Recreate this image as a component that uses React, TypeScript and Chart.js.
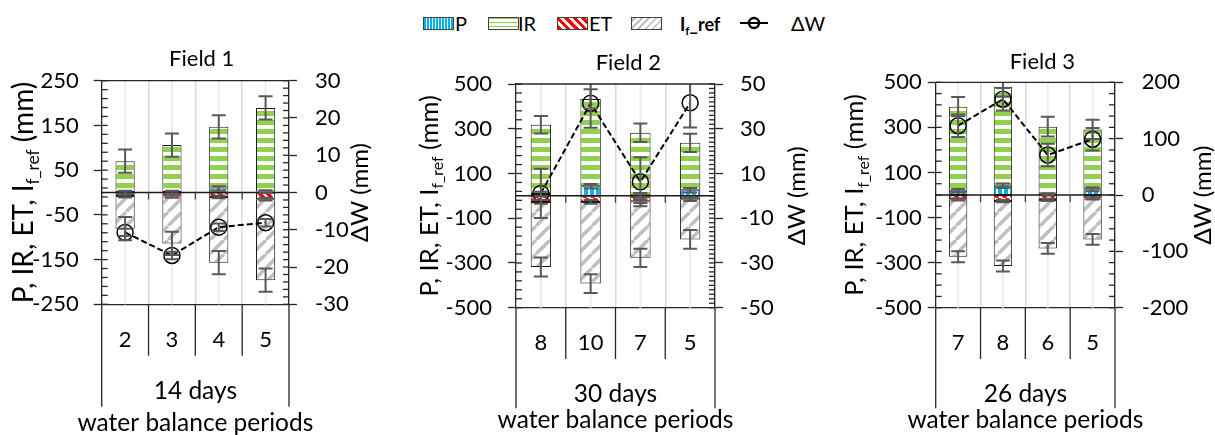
import React, { useEffect, useRef } from "react";
import { Chart, registerables } from "chart.js";

Chart.register(...registerables);

const FONT = 'Lato, "Open Sans", "DejaVu Sans", sans-serif';
Chart.defaults.font.family = FONT;

// ---------------- data ----------------
const FIELD_TITLES = ["Field 1", "Field 2", "Field 3"];
const GROUP_LABELS = ["14 days", "30 days", "26 days"];
const X_TITLE = "water balance periods";
const LEFT_TITLE_MAIN = "P, IR, ET, I";
const LEFT_TITLE_SUB = "f_ref";
const LEFT_TITLE_UNIT = " (mm)";
const RIGHT_TITLE = "ΔW (mm)";
const SERIES_NAMES = ["P", "IR", "ET", "If_ref", "ΔW"];

const F1_PERIODS = ["2", "3", "4", "5"];
const F1_P = [1, 1, 9, 2];
const F1_IR = [69, 105, 138, 187];
const F1_ET = [-8, -9, -10, -15];
const F1_IF = [-73, -105, -147, -181];
const F1_DW = [-10.7, -16.9, -9.3, -8.1];
const F1_P_ERR = [3, 3, 5, 3];
const F1_IR_ERR = [26, 26, 26, 26];
const F1_ET_ERR = [3, 3, 3, 3];
const F1_IF_ERR = [26, 26, 26, 26];
const F1_DW_ERR = [1, 1, 1, 1];
const F1_LEFT_TICKS = [-250, -150, -50, 50, 150, 250];
const F1_RIGHT_TICKS = [-30, -20, -10, 0, 10, 20, 30];
const F1_LEFT_MINOR = 20;
const F1_RIGHT_MINOR = 2;

const F2_PERIODS = ["8", "10", "7", "5"];
const F2_P = [8, 43, 3, 25];
const F2_IR = [310, 390, 279, 212];
const F2_ET = [-27, -27, -24, -15];
const F2_IF = [-291, -365, -253, -180];
const F2_DW = [1.1, 41.4, 6.3, 41.6];
const F2_P_ERR = [10, 10, 10, 10];
const F2_IR_ERR = [39, 43, 41, 41];
const F2_ET_ERR = [8, 8, 8, 8];
const F2_IF_ERR = [42, 42, 41, 42];
const F2_DW_ERR = [11, 11, 11, 11];
const F2_LEFT_TICKS = [-500, -300, -100, 100, 300, 500];
const F2_RIGHT_TICKS = [-50, -40, -30, -20, -10, 0, 10, 20, 30, 40, 50];
const F2_LEFT_MINOR = 40;
const F2_RIGHT_MINOR = 2;

const F3_PERIODS = ["7", "8", "6", "5"];
const F3_P = [19, 41, 3, 25];
const F3_IR = [373, 439, 300, 266];
const F3_ET = [-19, -27, -22, -15];
const F3_IF = [-255, -288, -215, -182];
const F3_DW = [123, 170, 71, 99];
const F3_P_ERR = [8, 10, 5, 8];
const F3_IR_ERR = [43, 43, 44, 43];
const F3_ET_ERR = [5, 5, 5, 5];
const F3_IF_ERR = [24, 24, 24, 24];
const F3_DW_ERR = [20, 20, 20, 20];
const F3_LEFT_TICKS = [-500, -300, -100, 100, 300, 500];
const F3_RIGHT_TICKS = [-200, -100, 0, 100, 200];
const F3_LEFT_MINOR = 50;
const F3_RIGHT_MINOR = 20;

// ---------------- types ----------------
type PanelData = {
  title: string;
  group: string;
  periods: string[];
  series: number[][]; // P, IR, ET, IF, DW
  errors: number[][]; // same order
  leftTicks: number[];
  rightTicks: number[];
  leftMinor: number;
  rightMinor: number;
};

type PanelLayout = {
  x: number;
  w: number;
  padL: number;
  padR: number;
  wLeft: number;
  wRight: number;
  titleTop: number;
  titleBottom: number;
  xHeight: number;
  groupY: number;
  xTitleY: number;
  leftTitleX: number;
  leftTitleSize: number;
  rightTitleX: number;
  yTickPadL: number;
  yTickPadR: number;
  dividerLen: number;
  edgeLen: number;
};

const PANELS: PanelData[] = [
  {
    title: FIELD_TITLES[0],
    group: GROUP_LABELS[0],
    periods: F1_PERIODS,
    series: [F1_P, F1_IR, F1_ET, F1_IF, F1_DW],
    errors: [F1_P_ERR, F1_IR_ERR, F1_ET_ERR, F1_IF_ERR, F1_DW_ERR],
    leftTicks: F1_LEFT_TICKS,
    rightTicks: F1_RIGHT_TICKS,
    leftMinor: F1_LEFT_MINOR,
    rightMinor: F1_RIGHT_MINOR,
  },
  {
    title: FIELD_TITLES[1],
    group: GROUP_LABELS[1],
    periods: F2_PERIODS,
    series: [F2_P, F2_IR, F2_ET, F2_IF, F2_DW],
    errors: [F2_P_ERR, F2_IR_ERR, F2_ET_ERR, F2_IF_ERR, F2_DW_ERR],
    leftTicks: F2_LEFT_TICKS,
    rightTicks: F2_RIGHT_TICKS,
    leftMinor: F2_LEFT_MINOR,
    rightMinor: F2_RIGHT_MINOR,
  },
  {
    title: FIELD_TITLES[2],
    group: GROUP_LABELS[2],
    periods: F3_PERIODS,
    series: [F3_P, F3_IR, F3_ET, F3_IF, F3_DW],
    errors: [F3_P_ERR, F3_IR_ERR, F3_ET_ERR, F3_IF_ERR, F3_DW_ERR],
    leftTicks: F3_LEFT_TICKS,
    rightTicks: F3_RIGHT_TICKS,
    leftMinor: F3_LEFT_MINOR,
    rightMinor: F3_RIGHT_MINOR,
  },
];

// ---------------- layout (styles) ----------------
const TOP = 30;
const H = 405;
const TICK_SIZE = 22;
const XTITLE_SIZE = 24.5;
const LAYOUTS: PanelLayout[] = [
  {
    x: 0, w: 410, padL: 0, padR: 6.6, wLeft: 101.7, wRight: 114.4,
    titleTop: 16.1, titleBottom: 8.2, xHeight: 130.7, groupY: 391.5, xTitleY: 423,
    leftTitleX: 22.5, leftTitleSize: 28, rightTitleX: 360,
    yTickPadL: 15, yTickPadR: 18, dividerLen: 51.4, edgeLen: 102.4,
  },
  {
    x: 410, w: 420, padL: 16.6, padR: 0, wLeft: 89.4, wRight: 115,
    titleTop: 20.1, titleBottom: 7.5, xHeight: 127.3, groupY: 394.3, xTitleY: 420.3,
    leftTitleX: 428.5, leftTitleSize: 25.5, rightTitleX: 797,
    yTickPadL: 16, yTickPadR: 17, dividerLen: 51.3, edgeLen: 100.6,
  },
  {
    x: 830, w: 385, padL: 39.6, padR: 0, wLeft: 66.1, wRight: 100,
    titleTop: 19.1, titleBottom: 6.8, xHeight: 127.3, groupY: 394.3, xTitleY: 420.3,
    leftTitleX: 854, leftTitleSize: 25.5, rightTitleX: 1203,
    yTickPadL: 6, yTickPadR: 18.7, dividerLen: 51.3, edgeLen: 100.6,
  },
];

const AXIS_COLOR = "#262626";
const ERR_COLOR = "#595959";

// ---------------- patterns ----------------
function tile(w: number, h: number, draw: (g: CanvasRenderingContext2D) => void) {
  const c = document.createElement("canvas");
  c.width = w;
  c.height = h;
  const g = c.getContext("2d")!;
  g.fillStyle = "#ffffff";
  g.fillRect(0, 0, w, h);
  draw(g);
  return c;
}

function makePatterns(ctx: CanvasRenderingContext2D) {
  const p = tile(6, 6, (g) => {
    g.fillStyle = "#00b0f0";
    g.fillRect(0, 0, 4, 6);
  });
  const ir = tile(9, 9, (g) => {
    g.fillStyle = "#92d050";
    g.fillRect(0, 0, 9, 5);
  });
  const et = tile(8, 8, (g) => {
    g.strokeStyle = "#ff0000";
    g.lineWidth = 3.5;
    g.beginPath();
    for (let k = -1; k <= 1; k++) {
      g.moveTo(k * 8, 0);
      g.lineTo(k * 8 + 8, 8);
    }
    g.stroke();
  });
  const inf = tile(14, 14, (g) => {
    g.strokeStyle = "#bfbfbf";
    g.lineWidth = 3.5;
    g.beginPath();
    for (let k = -1; k <= 1; k++) {
      g.moveTo(k * 14, 14);
      g.lineTo(k * 14 + 14, 0);
    }
    g.stroke();
  });
  return [p, ir, et, inf].map((t) => ctx.createPattern(t, "repeat")!);
}

// ---------------- decoration plugin ----------------
function line(ctx: CanvasRenderingContext2D, x1: number, y1: number, x2: number, y2: number) {
  ctx.beginPath();
  ctx.moveTo(x1, y1);
  ctx.lineTo(x2, y2);
  ctx.stroke();
}

function makeDecor(d: PanelData, L: PanelLayout) {
  const n = d.periods.length;
  return {
    id: "decor",
    beforeDatasetsDraw(chart: any) {
      const { ctx, chartArea: a } = chart;
      const x = chart.scales.x;
      ctx.save();
      ctx.strokeStyle = "#ececec";
      ctx.lineWidth = 2;
      for (let i = 0; i < n; i++) {
        const px = x.getPixelForValue(i);
        line(ctx, px, a.top, px, a.bottom);
      }
      ctx.restore();
    },
    afterDatasetsDraw(chart: any) {
      const { ctx, chartArea: a } = chart;
      const x = chart.scales.x;
      const y = chart.scales.y;
      const y0 = y.getPixelForValue(0);
      ctx.save();
      ctx.strokeStyle = "#1a1a1a";
      ctx.lineWidth = 1.5;
      line(ctx, a.left, y0, a.right, y0);
      ctx.lineWidth = 1.3;
      ctx.strokeStyle = "#404040";
      for (let i = 1; i < n; i++) {
        const bx = (x.getPixelForValue(i - 1) + x.getPixelForValue(i)) / 2;
        line(ctx, bx, y0, bx, y0 + 7);
      }
      // error bars
      ctx.beginPath();
      ctx.rect(a.left, a.top, a.right - a.left, a.bottom - a.top);
      ctx.clip();
      ctx.strokeStyle = ERR_COLOR;
      ctx.lineWidth = 2;
      chart.data.datasets.forEach((_ds: any, di: number) => {
        const e = d.errors[di];
        if (!e) return;
        const meta = chart.getDatasetMeta(di);
        const sc = chart.scales[meta.yAxisID];
        meta.data.forEach((el: any, j: number) => {
          const ep = Math.abs(sc.getPixelForValue(e[j]) - sc.getPixelForValue(0));
          const cx = el.x;
          const cy = el.y;
          const cap = 7;
          ctx.beginPath();
          ctx.moveTo(cx, cy - ep);
          ctx.lineTo(cx, cy + ep);
          ctx.moveTo(cx - cap, cy - ep);
          ctx.lineTo(cx + cap, cy - ep);
          ctx.moveTo(cx - cap, cy + ep);
          ctx.lineTo(cx + cap, cy + ep);
          ctx.stroke();
        });
      });
      ctx.restore();
    },
    afterDraw(chart: any) {
      const { ctx, chartArea: a } = chart;
      const x = chart.scales.x;
      const y = chart.scales.y;
      const y1 = chart.scales.y1;
      ctx.save();
      ctx.strokeStyle = AXIS_COLOR;
      ctx.lineWidth = 1.3;
      // top border
      line(ctx, a.left, a.top, a.right, a.top);
      // minor ticks (inward)
      const lmin = d.leftTicks[0];
      const lmax = d.leftTicks[d.leftTicks.length - 1];
      for (let v = lmin; v <= lmax + 1e-9; v += d.leftMinor) {
        const py = y.getPixelForValue(v);
        line(ctx, a.left, py, a.left + 6, py);
      }
      const rmin = d.rightTicks[0];
      const rmax = d.rightTicks[d.rightTicks.length - 1];
      for (let v = rmin; v <= rmax + 1e-9; v += d.rightMinor) {
        const py = y1.getPixelForValue(v);
        line(ctx, a.right - 6, py, a.right, py);
      }
      // category dividers below axis
      for (let i = 1; i < n; i++) {
        const bx = (x.getPixelForValue(i - 1) + x.getPixelForValue(i)) / 2;
        line(ctx, bx, a.bottom, bx, a.bottom + L.dividerLen);
      }
      line(ctx, a.left, a.bottom, a.left, a.bottom + L.edgeLen);
      line(ctx, a.right, a.bottom, a.right, a.bottom + L.edgeLen);

      ctx.fillStyle = "#000";
      // x axis group label and title
      const cx = (a.left + a.right) / 2;
      ctx.font = `${XTITLE_SIZE}px ${FONT}`;
      ctx.textAlign = "center";
      ctx.textBaseline = "middle";
      ctx.fillText(d.group, cx, L.groupY - TOP);
      ctx.fillText(X_TITLE, cx, L.xTitleY - TOP);

      // axis titles
      const cy = (a.top + a.bottom) / 2;
      // left (rich text with subscript)
      const S = L.leftTitleSize;
      const sub = S * 0.62;
      const parts = [
        { t: LEFT_TITLE_MAIN, s: S, dy: 0 },
        { t: LEFT_TITLE_SUB, s: sub, dy: S * 0.22 },
        { t: LEFT_TITLE_UNIT, s: S, dy: 0 },
      ];
      let total = 0;
      const widths = parts.map((p) => {
        ctx.font = `${p.s}px ${FONT}`;
        const w = ctx.measureText(p.t).width;
        total += w;
        return w;
      });
      ctx.save();
      ctx.translate(L.leftTitleX - L.x, cy);
      ctx.rotate(-Math.PI / 2);
      ctx.textBaseline = "alphabetic";
      ctx.textAlign = "left";
      let px = -total / 2;
      parts.forEach((p, i) => {
        ctx.font = `${p.s}px ${FONT}`;
        ctx.fillText(p.t, px, S * 0.36 + p.dy);
        px += widths[i];
      });
      ctx.restore();
      // right
      ctx.save();
      ctx.translate(L.rightTitleX - L.x, cy);
      ctx.rotate(-Math.PI / 2);
      ctx.font = `24px ${FONT}`;
      ctx.textAlign = "center";
      ctx.textBaseline = "middle";
      ctx.fillText(RIGHT_TITLE, 0, 0);
      ctx.restore();
      ctx.restore();
    },
  };
}

// ---------------- chart panel ----------------
function Panel({ d, L }: { d: PanelData; L: PanelLayout }) {
  const ref = useRef<HTMLCanvasElement>(null);
  useEffect(() => {
    const canvas = ref.current!;
    const ctx = canvas.getContext("2d")!;
    const pats = makePatterns(ctx);
    const n = d.periods.length;
    const barCommon = {
      type: "bar" as const,
      yAxisID: "y",
      stack: "s",
      borderColor: "#1a1a1a",
      borderWidth: 1,
      borderSkipped: false,
      barPercentage: 0.41,
      categoryPercentage: 1,
      order: 1,
    };
    const chart = new Chart(canvas, {
      type: "bar",
      data: {
        labels: d.periods,
        datasets: [
          { ...barCommon, label: SERIES_NAMES[0], data: d.series[0], backgroundColor: pats[0] },
          { ...barCommon, label: SERIES_NAMES[1], data: d.series[1], backgroundColor: pats[1] },
          { ...barCommon, label: SERIES_NAMES[2], data: d.series[2], backgroundColor: pats[2] },
          { ...barCommon, label: SERIES_NAMES[3], data: d.series[3], backgroundColor: pats[3] },
          {
            type: "line" as const,
            label: SERIES_NAMES[4],
            data: d.series[4],
            yAxisID: "y1",
            borderColor: "#000",
            borderWidth: 2,
            borderDash: [6, 3],
            pointRadius: 8,
            pointBorderWidth: 1.5,
            pointBorderColor: "#000",
            pointBackgroundColor: "rgba(0,0,0,0)",
            fill: false,
            tension: 0,
            order: 0,
          },
        ] as any,
      },
      options: {
        responsive: false,
        animation: false,
        layout: { padding: { left: L.padL, right: L.padR, top: 0, bottom: 0 } },
        plugins: {
          legend: { display: false },
          tooltip: { enabled: false },
          title: {
            display: true,
            text: d.title,
            color: "#000",
            font: { size: 22, weight: "normal", family: FONT },
            padding: { top: L.titleTop, bottom: L.titleBottom },
          },
        },
        scales: {
          x: {
            type: "category",
            stacked: true,
            offset: true,
            grid: {
              offset: true,
              drawTicks: false,
              lineWidth: 1.5,
              color: (c: any) => (c.index === 0 || c.index === n ? "rgba(0,0,0,0)" : "#d9d9d9"),
            },
            border: { display: true, color: AXIS_COLOR, width: 1.3 },
            ticks: {
              padding: 22.3,
              color: "#000",
              font: { size: TICK_SIZE, family: FONT },
              maxRotation: 0,
              autoSkip: false,
            },
            title: { display: false },
            afterFit: (s: any) => {
              s.height = L.xHeight;
            },
          },
          y: {
            position: "left",
            stacked: true,
            min: d.leftTicks[0],
            max: d.leftTicks[d.leftTicks.length - 1],
            afterBuildTicks: (s: any) => {
              s.ticks = d.leftTicks.map((v) => ({ value: v }));
            },
            ticks: {
              padding: L.yTickPadL,
              color: "#000",
              font: { size: TICK_SIZE, family: FONT },
              callback: (v: any) => String(v),
            },
            grid: { drawOnChartArea: false, drawTicks: true, tickLength: 8, tickColor: AXIS_COLOR, tickWidth: 1.3 },
            border: { display: true, color: AXIS_COLOR, width: 1.3 },
            afterFit: (s: any) => {
              s.width = L.wLeft;
            },
          },
          y1: {
            position: "right",
            stacked: false,
            min: d.rightTicks[0],
            max: d.rightTicks[d.rightTicks.length - 1],
            afterBuildTicks: (s: any) => {
              s.ticks = d.rightTicks.map((v) => ({ value: v }));
            },
            ticks: {
              padding: L.yTickPadR,
              color: "#000",
              font: { size: TICK_SIZE, family: FONT },
              callback: (v: any) => String(v),
            },
            grid: { drawOnChartArea: false, drawTicks: true, tickLength: 8, tickColor: AXIS_COLOR, tickWidth: 1.3 },
            border: { display: true, color: AXIS_COLOR, width: 1.3 },
            afterFit: (s: any) => {
              s.width = L.wRight;
            },
          },
        },
      } as any,
      plugins: [makeDecor(d, L)],
    });
    return () => chart.destroy();
  }, [d, L]);
  return (
    <canvas
      ref={ref}
      width={L.w}
      height={H}
      style={{ position: "absolute", left: L.x, top: TOP, width: L.w, height: H }}
    />
  );
}

// ---------------- legend ----------------
const LEGEND_POS = [
  { sw: 423, tx: 455 },
  { sw: 488, tx: 518 },
  { sw: 557, tx: 589 },
  { sw: 631, tx: 680 },
  { sw: 740, tx: 791 },
];
const SWATCH_BG = [
  "repeating-linear-gradient(90deg, #00b0f0 0px, #00b0f0 2px, #ffffff 2px, #ffffff 3px)",
  "repeating-linear-gradient(180deg, #92d050 0px, #92d050 1.5px, #ffffff 1.5px, #ffffff 4px)",
  "repeating-linear-gradient(45deg, #ff0000 0px, #ff0000 3px, #ffffff 3px, #ffffff 6px)",
  "repeating-linear-gradient(-45deg, #bfbfbf 0px, #bfbfbf 2px, #ffffff 2px, #ffffff 5px)",
];

function Legend() {
  const textStyle = (left: number): React.CSSProperties => ({
    position: "absolute",
    left,
    top: 11,
    height: 24,
    lineHeight: "24px",
    fontSize: 20,
    fontFamily: FONT,
    color: "#000",
    whiteSpace: "nowrap",
  });
  return (
    <>
      {SERIES_NAMES.map((name, i) => {
        const pos = LEGEND_POS[i];
        let swatch: React.ReactNode;
        if (i < 4) {
          swatch = (
            <div
              style={{
                position: "absolute",
                left: pos.sw,
                top: 17,
                width: 29,
                height: 11,
                background: SWATCH_BG[i],
                border: "1px solid #404040",
              }}
            />
          );
        } else {
          swatch = (
            <svg style={{ position: "absolute", left: pos.sw, top: 16 }} width={28} height={14}>
              <line x1={0} y1={7} x2={28} y2={7} stroke="#000" strokeWidth={2} />
              <circle cx={14} cy={7} r={5} stroke="#000" strokeWidth={2.5} fill="none" />
            </svg>
          );
        }
        let label: React.ReactNode = name;
        if (i === 3) {
          label = (
            <span style={{ fontWeight: 700, fontSize: 18 }}>
              {name.charAt(0)}
              <span style={{ fontSize: "0.65em", position: "relative", top: 4 }}>{name.charAt(1)}</span>
              {name.slice(2)}
            </span>
          );
        }
        return (
          <React.Fragment key={name}>
            {swatch}
            <div style={textStyle(pos.tx)}>{label}</div>
          </React.Fragment>
        );
      })}
    </>
  );
}

export default function App() {
  return (
    <div
      style={{
        position: "absolute",
        left: 0,
        top: 0,
        width: 1215,
        height: 435,
        overflow: "hidden",
        background: "#ffffff",
      }}
    >
      <Legend />
      {PANELS.map((d, i) => (
        <Panel key={d.title} d={d} L={LAYOUTS[i]} />
      ))}
    </div>
  );
}
